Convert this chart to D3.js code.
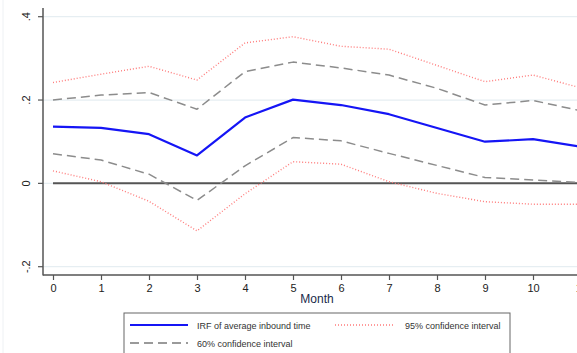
<!DOCTYPE html>
<html>
<head>
<meta charset="utf-8">
<script src="https://cdn.jsdelivr.net/npm/d3@7"></script>
<style>
  html, body { margin: 0; padding: 0; background: #fff; }
  svg { display: block; font-family: "Liberation Sans", Arial, sans-serif; }
</style>
</head>
<body>
<svg id="chart" width="577" height="353"></svg>
<script>
// Impulse response of average inbound time, by month
const months = [0, 1, 2, 3, 4, 5, 6, 7, 8, 9, 10, 11];
const irf    = [0.136, 0.133, 0.118, 0.067, 0.158, 0.201, 0.188, 0.166, 0.133, 0.100, 0.106, 0.088];
const up60   = [0.200, 0.212, 0.218, 0.178, 0.268, 0.291, 0.277, 0.260, 0.228, 0.188, 0.199, 0.174];
const lo60   = [0.071, 0.056, 0.022, -0.041, 0.042, 0.110, 0.102, 0.072, 0.043, 0.014, 0.008, 0.002];
const up95   = [0.242, 0.262, 0.281, 0.248, 0.337, 0.352, 0.329, 0.322, 0.283, 0.244, 0.260, 0.229];
const lo95   = [0.030, 0.004, -0.043, -0.114, -0.025, 0.052, 0.046, 0.004, -0.024, -0.044, -0.050, -0.050];
const yTicks = [-0.2, 0, 0.2, 0.4];
const yTickLabels = ["-.2", "0", ".2", ".4"];
const xTicks = months;

const svg = d3.select("#chart");

const x = d3.scaleLinear().domain([0, 11]).range([53, 581]);
const y = d3.scaleLinear().domain([-0.2, 0.4]).range([266.7, 16.7]);

const axisX = 43, axisY = 275;

// faint outer frame on the left
svg.append("line").attr("x1", 3).attr("x2", 3).attr("y1", 0).attr("y2", 353)
  .attr("stroke", "#eef1f4").attr("stroke-width", 1);

// horizontal grid lines at the y ticks
svg.append("g").selectAll("line").data(yTicks).join("line")
  .attr("x1", axisX).attr("x2", 577)
  .attr("y1", d => y(d)).attr("y2", d => y(d))
  .attr("stroke", "#e6eef2").attr("stroke-width", 1.2);

// zero reference line
svg.append("line")
  .attr("x1", x(0)).attr("x2", 577)
  .attr("y1", y(0)).attr("y2", y(0))
  .attr("stroke", "#555").attr("stroke-width", 2);

// y axis
const yAxis = d3.axisLeft(y).tickValues(yTicks)
  .tickFormat((d, i) => yTickLabels[i]).tickSize(5).tickSizeOuter(0);
const gy = svg.append("g").attr("transform", `translate(${axisX},0)`).call(yAxis);
gy.select(".domain").remove();
gy.append("line").attr("x1", 0).attr("x2", 0).attr("y1", 8).attr("y2", axisY + 0.5)
  .attr("stroke", "#555").attr("stroke-width", 1.5);
gy.selectAll(".tick line").attr("stroke", "#555").attr("stroke-width", 1.2);
gy.selectAll(".tick text")
  .attr("x", 0).attr("dy", 0)
  .attr("transform", d => `translate(-13,${y(d)}) rotate(-90)`)
  .attr("y", 0)
  .attr("text-anchor", "middle")
  .attr("font-size", 11).attr("fill", "#222");
gy.selectAll(".tick").attr("transform", null);
gy.selectAll(".tick line").attr("y1", d => y(d)).attr("y2", d => y(d));

// x axis
const xAxis = d3.axisBottom(x).tickValues(xTicks).tickFormat(d3.format("d"))
  .tickSize(5).tickSizeOuter(0);
const gx = svg.append("g").attr("transform", `translate(0,${axisY})`).call(xAxis);
gx.select(".domain").remove();
gx.append("line").attr("x1", axisX).attr("x2", 577).attr("y1", 0).attr("y2", 0)
  .attr("stroke", "#555").attr("stroke-width", 1.5);
gx.selectAll(".tick line").attr("stroke", "#555").attr("stroke-width", 1.2);
gx.selectAll(".tick text").attr("y", 9).attr("font-size", 11).attr("fill", "#222");

// axis title
svg.append("text").attr("x", 317).attr("y", 303)
  .attr("text-anchor", "middle").attr("font-size", 12).attr("fill", "#1a2a4a")
  .text("Month");

// series lines
const line = d3.line().x((d, i) => x(months[i])).y(d => y(d));
const clip = svg.append("clipPath").attr("id", "plotclip")
  .append("rect").attr("x", axisX).attr("y", 0).attr("width", 577 - axisX).attr("height", axisY);

const series = [
  { data: up95, stroke: "#ff7b7b", width: 1.4, dash: "1,2" },
  { data: lo95, stroke: "#ff7b7b", width: 1.4, dash: "1,2" },
  { data: up60, stroke: "#8c8c8c", width: 1.5, dash: "9,5" },
  { data: lo60, stroke: "#8c8c8c", width: 1.5, dash: "9,5" },
  { data: irf,  stroke: "#1515f5", width: 2.2, dash: null }
];
svg.append("g").attr("clip-path", "url(#plotclip)")
  .selectAll("path").data(series).join("path")
  .attr("d", s => line(s.data))
  .attr("fill", "none")
  .attr("stroke", s => s.stroke)
  .attr("stroke-width", s => s.width)
  .attr("stroke-dasharray", s => s.dash)
  .attr("stroke-linejoin", "round");

// legend
const lg = svg.append("g");
lg.append("rect").attr("x", 124).attr("y", 313).attr("width", 386).attr("height", 50)
  .attr("fill", "#fff").attr("stroke", "#666").attr("stroke-width", 1);
const items = [
  { x: 130, y: 325, text: "IRF of average inbound time", stroke: "#1515f5", width: 2.2, dash: null },
  { x: 335, y: 325, text: "95% confidence interval", stroke: "#ff7b7b", width: 1.4, dash: "1,2" },
  { x: 130, y: 343, text: "60% confidence interval", stroke: "#7a7a7a", width: 1.4, dash: "9,5" }
];
items.forEach(it => {
  lg.append("line").attr("x1", it.x).attr("x2", it.x + 58)
    .attr("y1", it.y).attr("y2", it.y)
    .attr("stroke", it.stroke).attr("stroke-width", it.width)
    .attr("stroke-dasharray", it.dash);
  lg.append("text").attr("x", it.x + (it.x === 130 ? 67 : 70)).attr("y", it.y + 3.5)
    .attr("font-size", 9).attr("fill", "#333").text(it.text);
});
</script>
</body>
</html>
